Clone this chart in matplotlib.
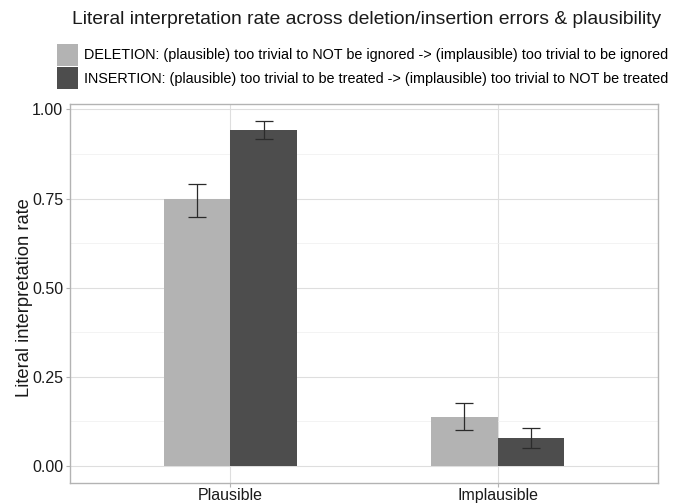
import matplotlib
matplotlib.use("Agg")
import matplotlib.pyplot as plt
import numpy as np

plt.rcParams['font.family'] = ['Liberation Sans', 'DejaVu Sans']

categories = ["Plausible", "Implausible"]
series_names = [
    "DELETION: (plausible) too trivial to NOT be ignored -> (implausible) too trivial to be ignored",
    "INSERTION: (plausible) too trivial to be treated -> (implausible) too trivial to NOT be treated",
]
deletion_vals = [0.748, 0.136]
deletion_lo = [0.699, 0.100]
deletion_hi = [0.792, 0.175]
insertion_vals = [0.943, 0.077]
insertion_lo = [0.9165, 0.050]
insertion_hi = [0.967, 0.107]
yticks = [0.00, 0.25, 0.50, 0.75, 1.00]
ytick_labels = ["0.00", "0.25", "0.50", "0.75", "1.00"]
colors = ["#B3B3B3", "#4D4D4D"]

W, H = 673, 503
fig = plt.figure(figsize=(W / 100, H / 100), dpi=100)
ax = fig.add_axes([70 / W, (H - 483) / H, 588 / W, 379 / H])

x = np.arange(1, len(categories) + 1)
bw = 0.25
series = [(deletion_vals, deletion_lo, deletion_hi), (insertion_vals, insertion_lo, insertion_hi)]
handles = []
for i, (vals, lo, hi) in enumerate(series):
    xpos = x + (i - 0.5) * bw
    b = ax.bar(xpos, vals, width=bw, color=colors[i], edgecolor='none', zorder=2, label=series_names[i])
    handles.append(b)
    vals = np.array(vals); lo = np.array(lo); hi = np.array(hi)
    ax.errorbar(xpos, vals, yerr=[vals - lo, hi - vals], fmt='none', ecolor='#2b2b2b',
                elinewidth=0.9, capsize=6.7, capthick=0.9, zorder=3)

ymin, ymax = 0, max(max(deletion_hi), max(insertion_hi))
pad = 0.05 * (ymax - ymin)
ax.set_ylim(ymin - pad, ymax + pad)
ax.set_xlim(0.4, 2.6)
ax.set_xticks(x)
ax.set_xticklabels(categories, fontsize=11.5, color='#1a1a1a')
ax.set_yticks(yticks)
ax.set_yticklabels(ytick_labels, fontsize=11.5, color='#1a1a1a')
ax.set_yticks([0.125, 0.375, 0.625, 0.875], minor=True)
ax.tick_params(axis='both', which='major', length=3, color='#B3B3B3', width=0.8, pad=2)
ax.tick_params(axis='x', which='major', pad=0.5)
ax.tick_params(axis='both', which='minor', length=0)
ax.grid(which='major', color='#DEDEDE', linewidth=0.8, zorder=0)
ax.grid(which='minor', axis='y', color='#EEEEEE', linewidth=0.5, zorder=0)
ax.set_axisbelow(True)
for s in ax.spines.values():
    s.set_color('#B3B3B3')
    s.set_linewidth(1.0)
ax.set_ylabel("Literal interpretation rate", fontsize=13.2, color='#1a1a1a')
ax.yaxis.set_label_coords(-0.063, 0.49)

fig.text(367 / W, 1 - 19 / H, "Literal interpretation rate across deletion/insertion errors & plausibility",
         ha='center', va='center', fontsize=13.9, color='#1a1a1a')

fig.legend(handles=handles, labels=series_names, loc='upper left',
           bbox_to_anchor=(54 / W, 1 - 41 / H), frameon=False, fontsize=10.35,
           handlelength=1.45, handleheight=1.95, handletextpad=0.45, labelspacing=0.1,
           borderaxespad=0, borderpad=0.2)

fig.savefig("out.png", dpi=100)
